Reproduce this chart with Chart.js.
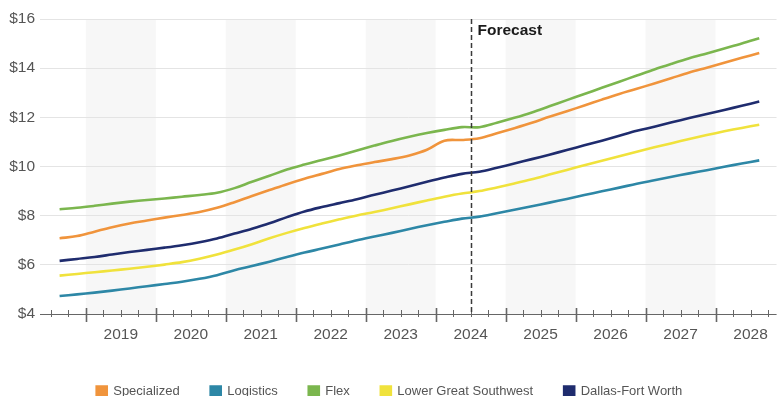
<!DOCTYPE html>
<html>
<head>
<meta charset="utf-8">
<script src="https://cdn.jsdelivr.net/npm/chart.js@4/dist/chart.umd.min.js"></script>
<style>
html,body{margin:0;padding:0;background:#fff;overflow:hidden;}
#wrap{width:779px;height:396px;position:relative;}
</style>
</head>
<body>
<div id="wrap"><canvas id="c" width="779" height="396"></canvas></div>
<script>
// ---- data ----
const quarters = ['2018Q3','2018Q4',
  '2019Q1','2019Q2','2019Q3','2019Q4','2020Q1','2020Q2','2020Q3','2020Q4',
  '2021Q1','2021Q2','2021Q3','2021Q4','2022Q1','2022Q2','2022Q3','2022Q4',
  '2023Q1','2023Q2','2023Q3','2023Q4','2024Q1','2024Q2','2024Q3','2024Q4',
  '2025Q1','2025Q2','2025Q3','2025Q4','2026Q1','2026Q2','2026Q3','2026Q4',
  '2027Q1','2027Q2','2027Q3','2027Q4','2028Q1','2028Q2','2028Q3'];
const specialized = [7.08,7.17,7.35,7.53,7.68,7.80,7.92,8.03,8.15,8.32,8.55,8.80,9.04,9.28,9.50,9.70,9.90,10.05,10.18,10.30,10.45,10.68,11.05,11.08,11.15,11.35,11.56,11.78,12.02,12.25,12.48,12.72,12.95,13.16,13.38,13.60,13.82,14.02,14.22,14.42,14.62];
const logistics = [4.73,4.80,4.87,4.95,5.04,5.13,5.22,5.31,5.43,5.58,5.78,5.95,6.13,6.32,6.50,6.66,6.83,7.00,7.15,7.30,7.46,7.61,7.75,7.88,7.96,8.10,8.24,8.38,8.53,8.68,8.84,8.99,9.14,9.30,9.44,9.58,9.72,9.85,9.99,10.12,10.25];
const flex = [8.26,8.32,8.40,8.49,8.57,8.64,8.70,8.77,8.84,8.93,9.12,9.38,9.62,9.88,10.08,10.26,10.45,10.65,10.85,11.04,11.21,11.36,11.49,11.60,11.60,11.78,11.98,12.20,12.45,12.70,12.95,13.20,13.45,13.70,13.95,14.18,14.40,14.60,14.80,15.00,15.22];
const lowerGreatSouthwest = [5.56,5.63,5.70,5.77,5.84,5.92,6.01,6.11,6.25,6.42,6.62,6.84,7.08,7.30,7.50,7.68,7.85,8.01,8.15,8.30,8.46,8.62,8.77,8.90,9.00,9.15,9.31,9.48,9.67,9.86,10.05,10.23,10.42,10.60,10.78,10.95,11.12,11.28,11.43,11.57,11.70];
const dallasFortWorth = [6.16,6.24,6.32,6.42,6.52,6.61,6.70,6.80,6.92,7.07,7.27,7.47,7.69,7.94,8.17,8.35,8.51,8.67,8.85,9.02,9.20,9.38,9.55,9.70,9.79,9.95,10.12,10.30,10.48,10.67,10.86,11.05,11.25,11.45,11.62,11.80,11.97,12.14,12.30,12.47,12.64];
const yearLabels = ['2019','2020','2021','2022','2023','2024','2025','2026','2027','2028'];
const shadedYears = [2019,2021,2023,2025,2027];
const forecastAt = 2024.5;
const forecastLabel = 'Forecast';
const yTicks = [4,6,8,10,12,14,16];

// quarter string -> mid-quarter position on a year axis
const qPos = s => parseInt(s.slice(0,4)) + (parseInt(s.slice(5)) - 0.5) / 4;
const xs = quarters.map(qPos);
const pts = arr => arr.map((v,i)=>({x:xs[i], y:v}));

const FONT = "'Liberation Sans', Arial, Helvetica, sans-serif";

const series = [
  {label:'Specialized', data:specialized, color:'#F0943C'},
  {label:'Logistics', data:logistics, color:'#2D87A6'},
  {label:'Flex', data:flex, color:'#7BB64E'},
  {label:'Lower Great Southwest', data:lowerGreatSouthwest, color:'#F0E23C'},
  {label:'Dallas-Fort Worth', data:dallasFortWorth, color:'#1F2C6E'}
];

const decor = {
  id:'decor',
  beforeDraw(chart){
    const {ctx, chartArea:a, scales:{x}} = chart;
    ctx.save();
    ctx.fillStyle = '#fff';
    ctx.fillRect(0,0,chart.width,chart.height);
    ctx.fillStyle = '#f7f7f7';
    shadedYears.forEach(yr=>{
      const x0 = x.getPixelForValue(yr), x1 = x.getPixelForValue(yr+1);
      ctx.fillRect(x0, a.top, x1-x0, a.bottom-a.top);
    });
    ctx.restore();
  },
  afterDatasetsDraw(chart){
    const {ctx, chartArea:a, scales:{x}} = chart;
    ctx.save();
    ctx.strokeStyle = '#666';
    ctx.lineWidth = 1.2;
    ctx.beginPath();
    ctx.moveTo(a.left, a.bottom+0.5);
    ctx.lineTo(a.right, a.bottom+0.5);
    ctx.stroke();
    x.ticks.forEach(t=>{
      const px = Math.round(x.getPixelForValue(t.value))+0.5;
      const major = Math.abs(t.value - Math.round(t.value)) < 1e-6;
      ctx.lineWidth = major ? 1.6 : 1;
      ctx.beginPath();
      if (major){ ctx.moveTo(px, a.bottom-6); ctx.lineTo(px, a.bottom+8); }
      else { ctx.moveTo(px, a.bottom-4); ctx.lineTo(px, a.bottom+3); }
      ctx.stroke();
    });
    const fx = Math.round(x.getPixelForValue(forecastAt))+0.5;
    ctx.strokeStyle = '#3a3a3a';
    ctx.lineWidth = 1.5;
    ctx.setLineDash([5,3]);
    ctx.beginPath();
    ctx.moveTo(fx, a.top);
    ctx.lineTo(fx, a.bottom);
    ctx.stroke();
    ctx.setLineDash([]);
    ctx.fillStyle = '#1a1a1a';
    ctx.font = 'bold 15.5px ' + FONT;
    ctx.textBaseline = 'alphabetic';
    ctx.fillText(forecastLabel, fx+6, a.top+16);
    ctx.restore();
  }
};

new Chart(document.getElementById('c'), {
  type:'line',
  data:{
    datasets: series.map(s=>({
      label:s.label, data:pts(s.data),
      borderColor:s.color, backgroundColor:s.color,
      borderWidth:2.6, pointRadius:0, tension:0.35, fill:false
    }))
  },
  options:{
    responsive:false, animation:false,
    layout:{padding:{top:19, right:0, bottom:-12, left:0}},
    plugins:{
      legend:{
        position:'bottom',
        labels:{boxWidth:10, boxHeight:10, padding:31, color:'#555', font:{family:FONT, size:13}}
      },
      tooltip:{enabled:false}
    },
    scales:{
      x:{
        type:'linear', min:2018.345, max:2028.872,
        grid:{display:false, drawTicks:false},
        border:{display:false},
        afterBuildTicks(scale){
          const t=[];
          for (let v=2018.5; v<=2028.75+1e-6; v+=0.25) t.push({value:v});
          scale.ticks = t;
        },
        afterFit(scale){ scale.height = 40; },
        ticks:{
          autoSkip:false, maxRotation:0, padding:11, color:'#555',
          font:{family:FONT, size:15.5},
          callback(v){
            const f = v - Math.floor(v);
            if (Math.abs(f-0.5)<1e-6){
              const idx = yearLabels.indexOf(String(Math.floor(v)));
              return idx>=0 ? yearLabels[idx] : '';
            }
            return '';
          }
        }
      },
      y:{
        min:4, max:16,
        afterBuildTicks(scale){ scale.ticks = yTicks.map(v=>({value:v})); },
        afterFit(scale){ scale.width = 40; },
        grid:{color:'#e4e4e4', drawTicks:false, lineWidth:1},
        border:{display:false},
        ticks:{padding:5, color:'#555', font:{family:FONT, size:15.5}, callback:v=>'$'+v}
      }
    }
  },
  plugins:[decor]
});
</script>
</body>
</html>
